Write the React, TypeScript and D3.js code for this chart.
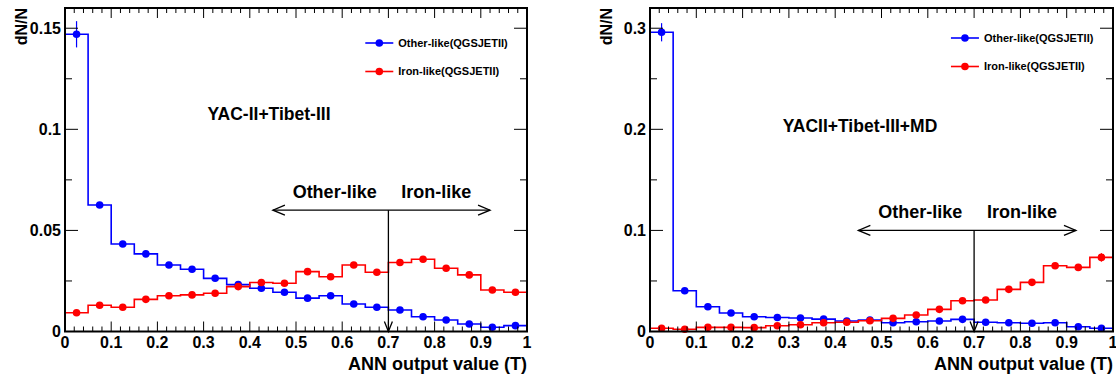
import React from "react";
import * as d3 from "d3";

// bin lower edges (ANN output value T), 20 bins of 0.05
const binLo = [0, 0.05, 0.1, 0.15, 0.2, 0.25, 0.3, 0.35, 0.4, 0.45, 0.5, 0.55, 0.6, 0.65, 0.7, 0.75, 0.8, 0.85, 0.9, 0.95];
const binWidth = 0.05;

// YAC-II + Tibet-III
const otherA = [0.147, 0.0626, 0.0433, 0.0384, 0.0329, 0.0308, 0.0263, 0.0232, 0.0214, 0.0194, 0.0165, 0.0177, 0.0136, 0.012, 0.0106, 0.0073, 0.0057, 0.0037, 0.0021, 0.0029];
const otherAErr = [0.0065, 0.0013, 0.0009, 0.0008, 0.0007, 0.0007, 0.0006, 0.0006, 0.0006, 0.0005, 0.0005, 0.0005, 0.0005, 0.0004, 0.0004, 0.0004, 0.0003, 0.0003, 0.0003, 0.0003];
const ironA = [0.0093, 0.013, 0.012, 0.0159, 0.0177, 0.0181, 0.0189, 0.0222, 0.0242, 0.0239, 0.0296, 0.0271, 0.0329, 0.0293, 0.0341, 0.0357, 0.0313, 0.028, 0.0205, 0.0194];
const ironAErr = [0.0004, 0.0004, 0.0004, 0.0005, 0.0005, 0.0005, 0.0005, 0.0006, 0.0006, 0.0006, 0.0007, 0.0007, 0.0007, 0.0007, 0.0008, 0.0008, 0.0008, 0.0008, 0.0009, 0.0015];

// YAC-II + Tibet-III + MD
const otherB = [0.296, 0.0403, 0.0245, 0.0183, 0.0146, 0.0138, 0.0133, 0.0122, 0.0104, 0.0114, 0.0087, 0.0097, 0.0104, 0.012, 0.0091, 0.0087, 0.0081, 0.0087, 0.0047, 0.0032];
const otherBErr = [0.009, 0.0015, 0.0012, 0.001, 0.001, 0.001, 0.001, 0.001, 0.0009, 0.0009, 0.0009, 0.0009, 0.0009, 0.0009, 0.0009, 0.0009, 0.0008, 0.0008, 0.0008, 0.0008];
const ironB = [0.0032, 0.0022, 0.0041, 0.0041, 0.0038, 0.0057, 0.0067, 0.0087, 0.0092, 0.0107, 0.013, 0.0163, 0.0219, 0.0304, 0.0311, 0.0417, 0.0486, 0.065, 0.0634, 0.0733];
const ironBErr = [0.0006, 0.0006, 0.0007, 0.0007, 0.0007, 0.0008, 0.0008, 0.0009, 0.0009, 0.001, 0.001, 0.0011, 0.0012, 0.0014, 0.0014, 0.0016, 0.0018, 0.002, 0.0022, 0.0042];

const xTicks = [0, 0.1, 0.2, 0.3, 0.4, 0.5, 0.6, 0.7, 0.8, 0.9, 1];
const yTicksA = [0, 0.05, 0.1, 0.15];
const yTicksB = [0, 0.1, 0.2, 0.3];
const legendNames = ["Other-like(QGSJETII)", "Iron-like(QGSJETII)"];

const BLUE = "#0000ff";
const RED = "#ff0000";
const FONT = "'Liberation Sans', Arial, Helvetica, sans-serif";

type PanelProps = {
  left: number;
  right: number;
  yMax: number;
  yTicks: number[];
  yMinor: number;
  other: number[];
  otherErr: number[];
  iron: number[];
  ironErr: number[];
  title: string;
  titleX: number;
  titleY: number;
  legendY: number;
  arrowY: number;
};

function Panel(p: PanelProps) {
  const top = 8;
  const bottom = 331.5;
  const x = d3.scaleLinear().domain([0, 1]).range([p.left, p.right]);
  const y = d3.scaleLinear().domain([0, p.yMax]).range([bottom, top]);

  const minorX = d3.range(0, 1.0001, 0.02);
  const minorY = d3.range(0, p.yMax + 1e-9, p.yMinor);

  const step = d3
    .line<[number, number]>()
    .x((d) => x(d[0]))
    .y((d) => y(d[1]))
    .curve(d3.curveStepAfter);

  const stepPath = (vals: number[]) => {
    const pts: [number, number][] = binLo.map((b, i) => [b, vals[i]]);
    pts.push([1, vals[vals.length - 1]]);
    return step(pts) as string;
  };

  const series = [
    { vals: p.other, err: p.otherErr, color: BLUE },
    { vals: p.iron, err: p.ironErr, color: RED },
  ];

  const ax = 0.7;
  const arrowL = 0.45;
  const arrowR = 0.92;
  const ay = y(p.arrowY);
  const legX = x(0.65);

  return (
    <g fontFamily={FONT} fontWeight="bold">
      {series.map((s, k) => (
        <g key={k}>
          <path d={stepPath(s.vals)} fill="none" stroke={s.color} strokeWidth={1.6} />
          {s.vals.map((v, i) => {
            const cx = x(binLo[i] + binWidth / 2);
            return (
              <g key={i}>
                <line x1={cx} x2={cx} y1={y(v + s.err[i])} y2={y(v - s.err[i])} stroke={s.color} strokeWidth={1.2} />
                <circle cx={cx} cy={y(v)} r={3.8} fill={s.color} />
              </g>
            );
          })}
        </g>
      ))}

      {/* frame */}
      <rect x={p.left} y={top} width={p.right - p.left} height={bottom - top} fill="none" stroke="#000" strokeWidth={2} />

      {/* x ticks bottom + top */}
      {minorX.map((t, i) => {
        const major = i % 5 === 0;
        const len = major ? 10 : 5;
        return (
          <g key={"xt" + i}>
            <line x1={x(t)} x2={x(t)} y1={bottom} y2={bottom - len} stroke="#000" strokeWidth={1} />
            <line x1={x(t)} x2={x(t)} y1={top} y2={top + len} stroke="#000" strokeWidth={1} />
          </g>
        );
      })}
      {/* y ticks left + right */}
      {minorY.map((t, i) => {
        const major = i % 2 === 0;
        const len = major ? 13 : 7;
        return (
          <g key={"yt" + i}>
            <line x1={p.left} x2={p.left + len} y1={y(t)} y2={y(t)} stroke="#000" strokeWidth={1} />
            <line x1={p.right} x2={p.right - len} y1={y(t)} y2={y(t)} stroke="#000" strokeWidth={1} />
          </g>
        );
      })}

      {xTicks.map((t) => (
        <text key={"xl" + t} x={x(t)} y={348} textAnchor="middle" fontSize={16}>
          {String(t)}
        </text>
      ))}
      {p.yTicks.map((t) => (
        <text key={"yl" + t} x={p.left - 4} y={y(t)} dy="0.36em" textAnchor="end" fontSize={16}>
          {String(t)}
        </text>
      ))}

      <text transform={`translate(${p.left - 38},${top}) rotate(-90)`} textAnchor="end" fontSize={16}>
        dN/N
      </text>
      <text x={p.right} y={370} textAnchor="end" fontSize={18}>
        ANN output value (T)
      </text>

      {/* legend */}
      {series.map((s, k) => {
        const ly = p.legendY + k * 28.5;
        return (
          <g key={"lg" + k}>
            <line x1={legX} x2={legX + 28} y1={ly} y2={ly} stroke={s.color} strokeWidth={1.6} />
            <circle cx={legX + 14} cy={ly} r={3.8} fill={s.color} />
            <text x={legX + 33} y={ly} dy="0.35em" fontSize={11}>
              {legendNames[k]}
            </text>
          </g>
        );
      })}

      <text x={p.titleX} y={p.titleY} textAnchor="middle" fontSize={17.5}>
        {p.title}
      </text>

      {/* cut arrows */}
      <g stroke="#000" strokeWidth={1.3} fill="none">
        <line x1={x(arrowL)} x2={x(arrowR)} y1={ay} y2={ay} />
        <polyline points={`${x(arrowL) + 12},${ay - 5} ${x(arrowL)},${ay} ${x(arrowL) + 12},${ay + 5}`} />
        <polyline points={`${x(arrowR) - 12},${ay - 5} ${x(arrowR)},${ay} ${x(arrowR) - 12},${ay + 5}`} />
        <line x1={x(ax)} x2={x(ax)} y1={ay} y2={bottom} />
        <polyline points={`${x(ax) - 4},${bottom - 10} ${x(ax)},${bottom} ${x(ax) + 4},${bottom - 10}`} />
      </g>
      <text x={(x(arrowL) + x(ax)) / 2 + 4} y={ay - 12} textAnchor="middle" fontSize={18}>
        Other-like
      </text>
      <text x={(x(ax) + x(arrowR)) / 2 - 3} y={ay - 12} textAnchor="middle" fontSize={18}>
        Iron-like
      </text>
    </g>
  );
}

export default function App() {
  return (
    <svg
      width={1116}
      height={376}
      style={{ position: "absolute", left: 0, top: 0, background: "#fff" }}
    >
      <rect width={1116} height={376} fill="#fff" />
      <Panel
        left={65}
        right={527}
        yMax={0.16}
        yTicks={yTicksA}
        yMinor={0.025}
        other={otherA}
        otherErr={otherAErr}
        iron={ironA}
        ironErr={ironAErr}
        title="YAC-II+Tibet-III"
        titleX={269}
        titleY={120}
        legendY={43}
        arrowY={0.06}
      />
      <Panel
        left={650}
        right={1113}
        yMax={0.32}
        yTicks={yTicksB}
        yMinor={0.05}
        other={otherB}
        otherErr={otherBErr}
        iron={ironB}
        ironErr={ironBErr}
        title="YACII+Tibet-III+MD"
        titleX={860}
        titleY={132}
        legendY={38}
        arrowY={0.1}
      />
    </svg>
  );
}
